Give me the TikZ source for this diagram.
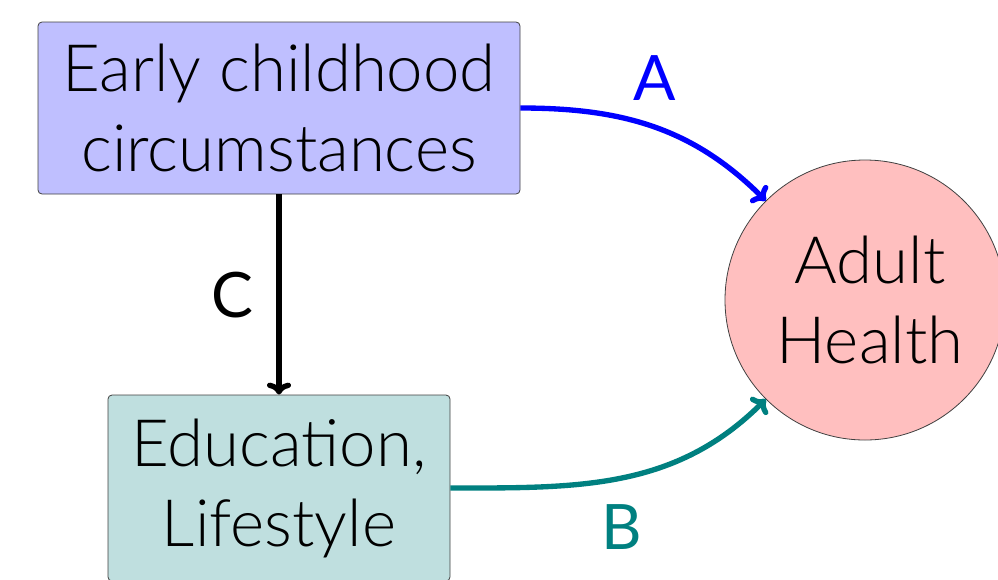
\documentclass[tikz,border=0pt]{standalone}
\usepackage{fontspec}
\setmainfont{Lato}
\newfontfamily\lightfont{Lato Light}
\usetikzlibrary{arrows.meta}
\definecolor{boxblue}{RGB}{191,191,255}
\definecolor{boxteal}{RGB}{191,223,223}
\definecolor{circred}{RGB}{255,191,191}
\tikzset{
  box/.style={draw=black!75, line width=0.6pt, rounded corners=3pt, align=center, font=\lightfont\fontsize{49}{60}\selectfont, inner sep=0pt},
  link/.style={line width=4pt, -{To[length=9pt,width=18pt]}},
  lab/.style={font=\fontsize{47}{50}\selectfont}
}
\begin{document}
\begin{tikzpicture}[x=0.75pt,y=-0.75pt]
\useasboundingbox (0,0) rectangle (998,579);
\node[box, fill=boxblue, minimum width=482*0.75pt, minimum height=172*0.75pt] (early) at (279,108) {Early childhood\\circumstances};
\node[box, fill=boxteal, minimum width=342*0.75pt, minimum height=186*0.75pt] (edu) at (279,488) {Education,\\Lifestyle};
\node[draw=black!75, line width=0.6pt, circle, fill=circred, minimum size=280*0.75pt, inner sep=0pt] (health) at (865,300) {};
\node[align=center, font=\lightfont\fontsize{49}{60}\selectfont, inner sep=0pt] (htext) at (870,300) {Adult\\Health};
\draw[link, blue] (early.east) to[out=0, in=135] (health.135);
\draw[link, teal] (edu.east) to[out=0, in=225] (health.225);
\draw[link, black] (early.south) -- (edu.north);
\node[lab, blue] (la) at (655,78) {A};
\node[lab, teal] (lb) at (622,527) {B};
\node[lab, black] (lc) at (232,295) {C};
\end{tikzpicture}
\end{document}
